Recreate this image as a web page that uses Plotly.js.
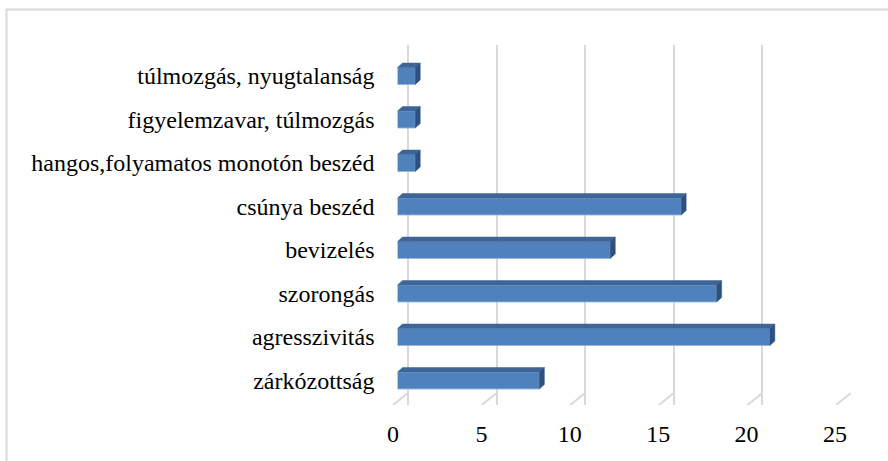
<!DOCTYPE html>
<html>
<head>
<meta charset="utf-8">
<script src="https://cdn.plot.ly/plotly-3.0.1.min.js"></script>
<style>html,body{margin:0;padding:0;background:#fff;}#chart{width:888px;height:461px;}</style>
</head>
<body>
<div id="chart"></div>
<script>
// Data (bottom to top)
const categories = ['zárkózottság', 'agresszivitás', 'szorongás', 'bevizelés', 'csúnya beszéd',
  'hangos,folyamatos monotón beszéd', 'figyelemzavar, túlmozgás', 'túlmozgás, nyugtalanság'];
const values = [8, 21, 18, 12, 16, 1, 1, 1];
const xTicks = [0, 5, 10, 15, 20, 25];

const W = 888, H = 461;
const fx = p => p / W;
const fy = p => (H - p) / H;

const positions = categories.map((c, i) => i);
const halfH = 0.195;          // half bar thickness (category units)
const dX = 0.282;             // bar depth offset in value units
const dY = 0.1034;            // bar depth offset in category units
const floorDX = 0.846;        // floor depth in value units

// top faces and right faces polygons computed from the data
const topX = [], topY = [], sideX = [], sideY = [];
values.forEach((v, i) => {
  const y = positions[i];
  topX.push(0, v, v + dX, dX, 0, null);
  topY.push(y + halfH, y + halfH, y + halfH + dY, y + halfH + dY, y + halfH, null);
  sideX.push(v, v, v + dX, v + dX, v, null);
  sideY.push(y - halfH, y + halfH, y + halfH + dY, y - halfH + dY, y - halfH, null);
});
// floor lines
const floorX = [], floorY = [];
xTicks.forEach(t => { floorX.push(t, t - floorDX, null); floorY.push(1, 0, null); });

const mkFont = () => ({family: 'Liberation Serif', size: 24, color: '#000'});

const traces = [
  {type: 'scatter', x: floorX, y: floorY, xaxis: 'x', yaxis: 'y3', mode: 'lines',
   line: {color: '#D9D9D9', width: 2}, hoverinfo: 'skip', showlegend: false, cliponaxis: false},
  {type: 'scatter', x: [], y: [], xaxis: 'x', yaxis: 'y', hoverinfo: 'skip', showlegend: false},
  {type: 'scatter', x: [], y: [], xaxis: 'x3', yaxis: 'y3', hoverinfo: 'skip', showlegend: false},
  {type: 'scatter', x: topX, y: topY, xaxis: 'x2', yaxis: 'y2', mode: 'lines', fill: 'toself',
   fillcolor: '#3E6597', line: {width: 0.5, color: '#3E6597'}, hoverinfo: 'skip', showlegend: false},
  {type: 'scatter', x: sideX, y: sideY, xaxis: 'x2', yaxis: 'y2', mode: 'lines', fill: 'toself',
   fillcolor: '#2E5080', line: {width: 0.5, color: '#2E5080'}, hoverinfo: 'skip', showlegend: false},
  {type: 'bar', orientation: 'h', x: values, y: positions, width: 0.39, xaxis: 'x2', yaxis: 'y2',
   marker: {color: '#4F81BD', line: {color: 'rgba(150,180,220,0.9)', width: 1}}, showlegend: false}
];

const shapes = [
  {type: 'rect', xref: 'paper', yref: 'paper', x0: fx(6.5), x1: 1.02, y0: -0.05, y1: fy(9.5),
   line: {color: '#D9D9D9', width: 2}, fillcolor: 'rgba(0,0,0,0)', layer: 'below'}
];

const layout = {
  width: W, height: H,
  margin: {l: 0, r: 0, t: 0, b: 0},
  paper_bgcolor: '#fff', plot_bgcolor: 'rgba(0,0,0,0)',
  font: mkFont(),
  showlegend: false,
  // back wall (gridlines)
  xaxis: {domain: [fx(392), fx(852)], range: [-0.903, 25.056], tickvals: xTicks, showticklabels: false,
    showgrid: true, gridcolor: '#D9D9D9', gridwidth: 2, zeroline: false, showline: false,
    ticks: '', anchor: 'y', fixedrange: true},
  yaxis: {domain: [fy(393), fy(45)], range: [0, 1], showgrid: false, zeroline: false,
    showticklabels: false, ticks: '', anchor: 'x', fixedrange: true},
  // floor
  yaxis3: {domain: [fy(405), fy(393)], range: [0, 1], showgrid: false, zeroline: false,
    showticklabels: false, ticks: '', anchor: 'x', fixedrange: true},
  // front tick labels
  xaxis3: {domain: [fx(393), fx(835)], range: [0, 25], anchor: 'y3', tickvals: xTicks,
    ticktext: xTicks.map(String), ticks: '', showgrid: false, zeroline: false, showline: false,
    ticklabelstandoff: 12, tickfont: mkFont(), fixedrange: true},
  // bars
  xaxis2: {domain: [fx(397.5), fx(840.75)], range: [0, 25], anchor: 'y2', showticklabels: false,
    ticks: '', showgrid: false, zeroline: false, showline: false, fixedrange: true},
  yaxis2: {domain: [fy(402.25), fy(54.25)], range: [-0.5, 7.5], anchor: 'x2', tickvals: positions,
    ticktext: categories, ticks: '', showgrid: false, zeroline: false, showline: false,
    ticklabelstandoff: 22, tickfont: mkFont(), fixedrange: true},
  shapes: shapes
};

Plotly.newPlot('chart', traces, layout, {displayModeBar: false, staticPlot: true});
</script>
</body>
</html>
